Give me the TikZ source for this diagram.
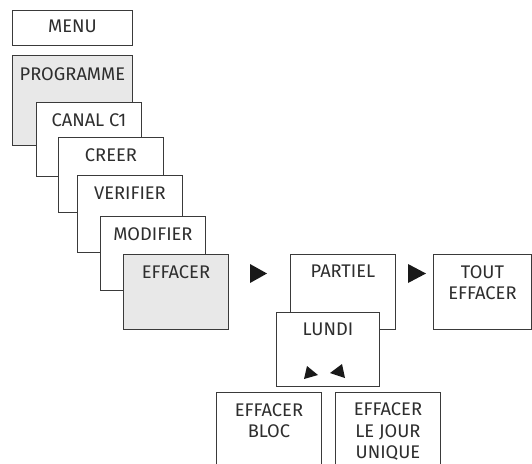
\documentclass[tikz,border=0pt]{standalone}
\usepackage{fontspec}
\setmainfont{Fira Sans}
\definecolor{linegray}{HTML}{3A3A3A}
\definecolor{fillgray}{HTML}{E8E8E8}
\definecolor{textgray}{HTML}{2E2E2E}
\tikzset{
  box/.style={draw=linegray, line width=0.9pt, fill=white, rectangle, inner sep=0pt, anchor=north west},
  greybox/.style={box, fill=fillgray},
  txt/.style={anchor=north, inner sep=0pt, align=center, text=textgray,
    font=\fontsize{18.3}{21.5}\selectfont},
  tri/.style={fill=black!90}
}
\begin{document}
\begin{tikzpicture}[x=1pt,y=-1pt]
\clip (0,0) rectangle (532,463);
\fill[white] (0,0) rectangle (532,463);
% left cascade
\node[box, minimum width=120, minimum height=35] (menu) at (12,10) {};
\node[greybox, minimum width=120, minimum height=90] (prog) at (12,55) {};
\node[box, minimum width=105, minimum height=74] (canal) at (36,102) {};
\node[box, minimum width=105, minimum height=75] (creer) at (58,137) {};
\node[box, minimum width=105, minimum height=77] (verif) at (77,175) {};
\node[box, minimum width=105, minimum height=74] (modif) at (100,216) {};
\node[greybox, minimum width=105, minimum height=75] (effacer) at (123,254) {};
% right part
\node[box, minimum width=105, minimum height=75] (partiel) at (290,254) {};
\node[box, minimum width=103, minimum height=74] (lundi) at (276,312) {};
\node[box, minimum width=98, minimum height=75] (tout) at (433,254) {};
\node[box, minimum width=105, minimum height=90] (bloc) at (216,392) {};
\node[box, minimum width=105, minimum height=90] (jour) at (335,392) {};
% texts
\node[txt] (tmenu) at ([yshift=-10]menu.north) {MENU};
\node[txt] (tprog) at ([yshift=-12]prog.north) {PROGRAMME};
\node[txt] (tcanal) at ([yshift=-11]canal.north) {CANAL C1};
\node[txt] (tcreer) at ([yshift=-11]creer.north) {CREER};
\node[txt] (tverif) at ([yshift=-12]verif.north) {VERIFIER};
\node[txt] (tmodif) at ([yshift=-11]modif.north) {MODIFIER};
\node[txt] (teff) at ([yshift=-11]effacer.north) {EFFACER};
\node[txt] (tpart) at ([yshift=-11]partiel.north) {PARTIEL};
\node[txt] (tlundi) at ([yshift=-11]lundi.north) {LUNDI};
\node[txt] (ttout) at ([yshift=-11]tout.north) {TOUT\\EFFACER};
\node[txt] (tbloc) at ([yshift=-11]bloc.north) {EFFACER\\BLOC};
\node[txt] (tjour) at ([yshift=-10.5]jour.north) {EFFACER\\LE JOUR\\UNIQUE};
% arrow triangles
\fill[tri] (250,264) -- (267,273.5) -- (250,283) -- cycle;
\fill[tri] (408,264) -- (426,273.5) -- (408,283) -- cycle;
\fill[tri] (307,366) -- (318,375) -- (304,379) -- cycle;
\fill[tri] (342,364) -- (345,378) -- (330,373) -- cycle;
\end{tikzpicture}
\end{document}
